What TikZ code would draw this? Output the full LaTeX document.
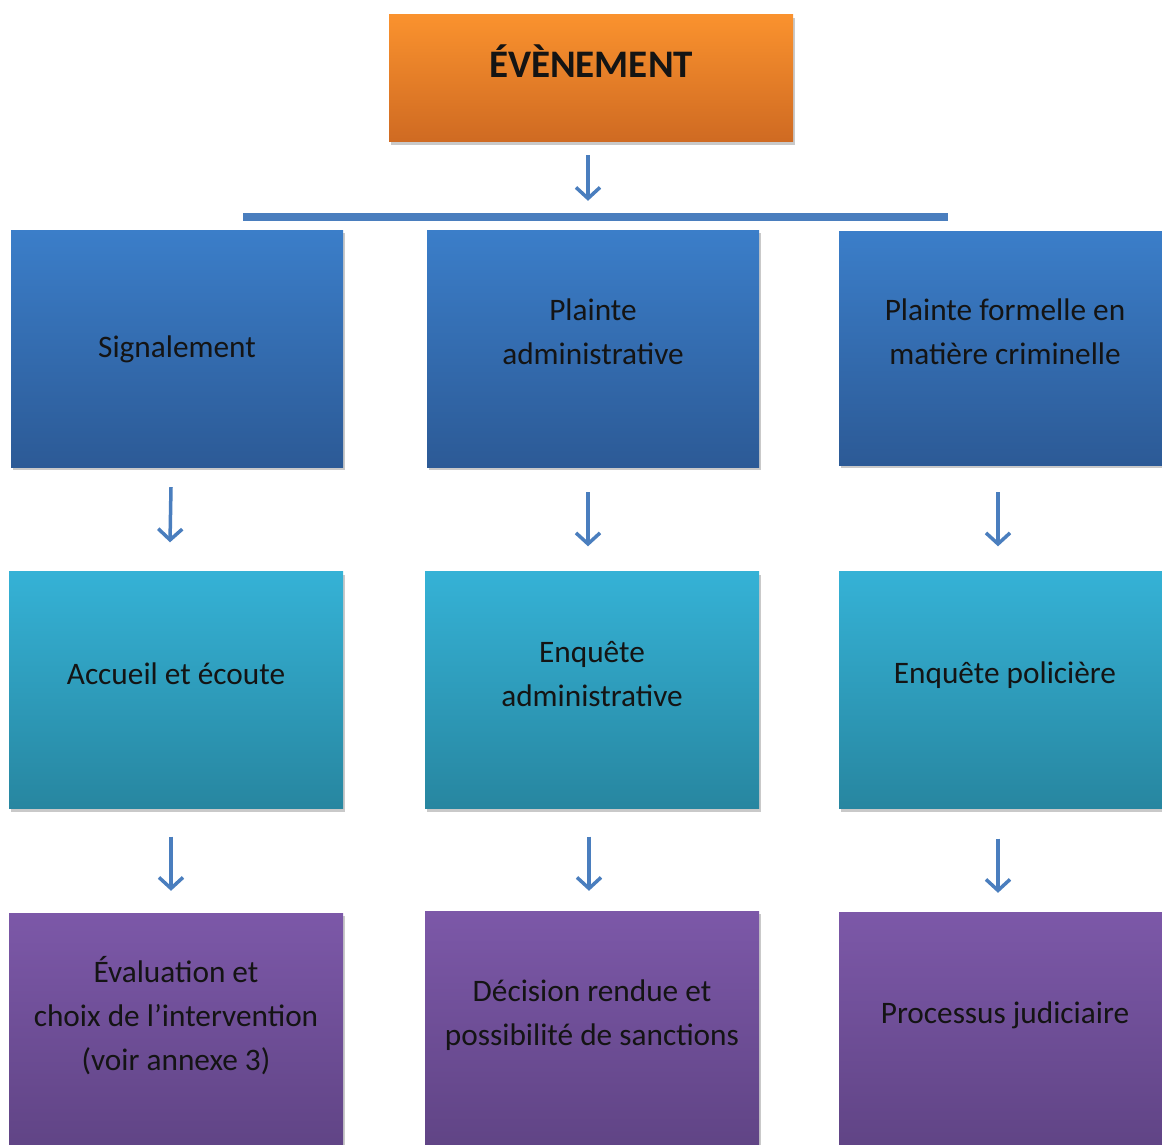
\documentclass[tikz,border=0pt]{standalone}
\usepackage{fontspec}
\setmainfont{Carlito}
\usetikzlibrary{arrows.meta,shadows}
\definecolor{orTop}{RGB}{250,146,46}
\definecolor{orBot}{RGB}{207,106,34}
\definecolor{blTop}{RGB}{59,126,201}
\definecolor{blBot}{RGB}{44,90,150}
\definecolor{tlTop}{RGB}{53,178,214}
\definecolor{tlBot}{RGB}{39,134,160}
\definecolor{puTop}{RGB}{124,88,168}
\definecolor{puBot}{RGB}{96,68,133}
\definecolor{arrC}{RGB}{74,126,190}
\begin{document}
\begin{tikzpicture}[x=1pt,y=-1pt,
  box/.style={draw=none, inner sep=0pt, minimum width=332pt, minimum height=237pt,
    drop shadow={shadow xshift=1.5pt, shadow yshift=-3pt, opacity=0.35, fill=black!60}},
  orbox/.style={box, top color=orTop, bottom color=orBot, minimum width=404pt, minimum height=127pt},
  blbox/.style={box, top color=blTop, bottom color=blBot},
  tlbox/.style={box, top color=tlTop, bottom color=tlBot},
  pubox/.style={box, top color=puTop, bottom color=puBot},
  txt/.style={align=center, inner sep=0pt, text=black!92, font=\fontsize{31.3}{44}\selectfont},
  arr/.style={draw=arrC, line width=3.5pt, -{Straight Barb[length=11pt,width=24pt,line width=3.5pt]}}
]
\useasboundingbox (0,0) rectangle (1162,1145);
\fill[white] (0,0) rectangle (1162,1145);
\clip (0,0) rectangle (1162,1145);

% top
\node[orbox] (ev) at (591,78.5) {};
\node[txt, font=\fontsize{39}{44}\selectfont\bfseries] (evt) at (591,61) {ÉVÈNEMENT};
\node[draw=none, fill=arrC, inner sep=0pt, minimum width=705pt, minimum height=8pt] (bar) at (595.5,217) {};

% row 1
\node[blbox] (s1) at (177,348.5) {};
\node[blbox] (s2) at (593,348.5) {};
\node[blbox, minimum height=234pt] (s3) at (1005,348) {};
% row 2
\node[tlbox, minimum width=334pt] (a1) at (176,690) {};
\node[tlbox, minimum width=334pt] (a2) at (592,690) {};
\node[tlbox] (a3) at (1005,690) {};
% row 3
\node[pubox, minimum width=334pt] (n1) at (176,1031.5) {};
\node[pubox, minimum width=334pt] (n2) at (592,1029.5) {};
\node[pubox] (n3) at (1005,1030.5) {};

% texts
\node[txt] (s1t) at (177,349) {Signalement};
\node[txt] (s2t) at (593,332) {Plainte\\administrative};
\node[txt] (s3t) at (1005,332) {Plainte formelle en\\matière criminelle};
\node[txt] (a1t) at (176,674) {Accueil et écoute};
\node[txt] (a2t) at (592,674) {Enquête\\administrative};
\node[txt] (a3t) at (1005,675) {Enquête policière};
\node[txt] (n1t) at (176,1016) {Évaluation et\\choix de l’intervention\\(voir annexe 3)};
\node[txt] (n2t) at (592,1015) {Décision rendue et\\possibilité de sanctions};
\node[txt] (n3t) at (1005,1015) {Processus judiciaire};

% arrows
\draw[arr] ([xshift=-3pt,yshift=-13pt]ev.south) -- ([xshift=-7.5pt,yshift=12pt]bar.north);
\draw[arr] ([xshift=-6pt,yshift=-20pt]s1.south) -- ([xshift=-6pt,yshift=29pt]a1.north);
\draw[arr] ([xshift=-5pt,yshift=-25pt]s2.south) -- ([xshift=-4pt,yshift=25pt]a2.north);
\draw[arr] ([xshift=-7pt,yshift=-27pt]s3.south) -- ([xshift=-7pt,yshift=25pt]a3.north);
\draw[arr] ([xshift=-5pt,yshift=-28pt]a1.south) -- ([xshift=-5pt,yshift=22pt]n1.north);
\draw[arr] ([xshift=-3pt,yshift=-28pt]a2.south) -- ([xshift=-3pt,yshift=20pt]n2.north);
\draw[arr] ([xshift=-7pt,yshift=-30pt]a3.south) -- ([xshift=-7pt,yshift=19pt]n3.north);
\end{tikzpicture}
\end{document}
